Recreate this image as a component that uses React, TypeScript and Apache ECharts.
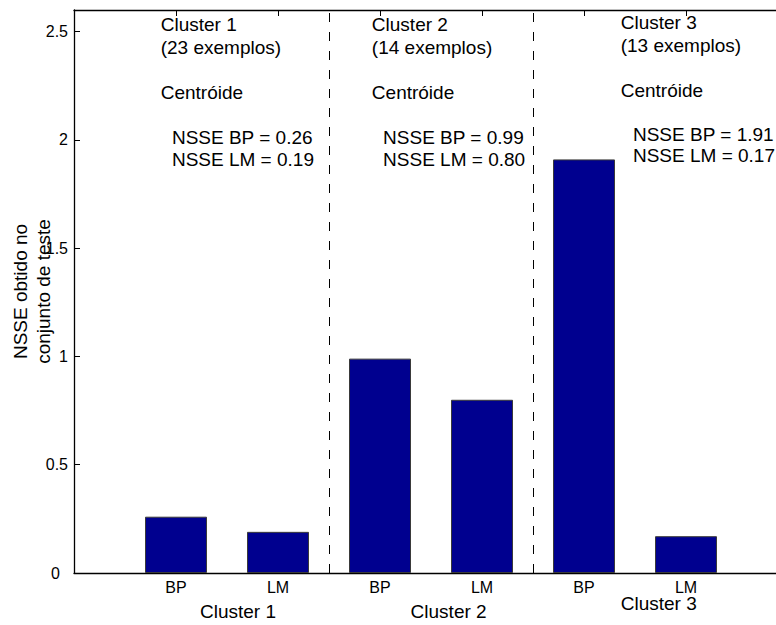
import React, { useEffect, useRef } from "react";
import * as echarts from "echarts";

// ---- data ----
const categories = ["BP", "LM", "BP", "LM", "BP", "LM"];
const nsse = [0.26, 0.19, 0.99, 0.8, 1.91, 0.17];
const clusterNames = ["Cluster 1", "Cluster 2", "Cluster 3"];
const exampleCounts = [23, 14, 13];
const nsseBP = ["0.26", "0.99", "1.91"];
const nsseLM = ["0.19", "0.80", "0.17"];
const dividers = [2.5, 4.5];
const yTicks = [0, 0.5, 1, 1.5, 2, 2.5];

// ---- layout (data coordinates for annotation anchors) ----
const headerX = [0.85, 2.92, 5.36];
const statX = [0.96, 3.03, 5.48];
const rowYs = [
  [2.531, 2.425, 2.219, 2.011, 1.909],
  [2.531, 2.425, 2.219, 2.011, 1.909],
  [2.542, 2.437, 2.229, 2.024, 1.930],
];
const bottomLabelX = [1.235, 3.3, 5.36];
const bottomLabelY = [-0.179, -0.179, -0.142];

const FONT = "'Liberation Sans', Arial, Helvetica, sans-serif";
const TEXT_SIZE = 19;
const TICK_SIZE = 16;

export default function App() {
  const ref = useRef<HTMLDivElement>(null);

  useEffect(() => {
    if (!ref.current) return;
    const chart = echarts.init(ref.current, null, { renderer: "svg" });

    const texts: { x: number; y: number; text: string }[] = [];
    clusterNames.forEach((name, k) => {
      const ry = rowYs[k];
      texts.push({ x: headerX[k], y: ry[0], text: name });
      texts.push({ x: headerX[k], y: ry[1], text: `(${exampleCounts[k]} exemplos)` });
      texts.push({ x: headerX[k], y: ry[2], text: "Centróide" });
      texts.push({ x: statX[k], y: ry[3], text: `NSSE BP = ${nsseBP[k]}` });
      texts.push({ x: statX[k], y: ry[4], text: `NSSE LM = ${nsseLM[k]}` });
      texts.push({ x: bottomLabelX[k], y: bottomLabelY[k], text: name });
    });

    const axisLineStyle = { color: "#000", width: 1.3 };

    chart.setOption({
      animation: false,
      backgroundColor: "#fff",
      grid: {
        left: 74,
        top: 10,
        width: 714,
        height: 563,
        containLabel: false,
        outerBoundsMode: "none",
      },
      xAxis: [
        {
          type: "value",
          position: "bottom",
          min: 0,
          max: 7,
          interval: 1,
          axisLine: { show: true, onZero: false, lineStyle: axisLineStyle },
          axisTick: { show: true, inside: true, length: 6, lineStyle: { color: "#000" } },
          axisLabel: {
            color: "#000",
            fontFamily: FONT,
            fontSize: TICK_SIZE,
            margin: 6,
            formatter: (v: number) =>
              v >= 1 && v <= categories.length ? categories[v - 1] : "",
          },
          splitLine: { show: false },
        },
        {
          type: "value",
          position: "top",
          min: 0,
          max: 7,
          interval: 1,
          axisLine: { show: true, onZero: false, lineStyle: axisLineStyle },
          axisTick: { show: true, inside: true, length: 6, lineStyle: { color: "#000" } },
          axisLabel: { show: false },
          splitLine: { show: false },
        },
      ],
      yAxis: {
        type: "value",
        min: 0,
        max: 2.6,
        interval: 0.5,
        name: "NSSE obtido no\nconjunto de teste",
        nameLocation: "middle",
        nameRotate: 90,
        nameGap: 19.5,
        nameMoveOverlap: false,
        nameTextStyle: {
          color: "#000",
          fontFamily: FONT,
          fontSize: TEXT_SIZE,
          lineHeight: 23,
        },
        axisLine: { show: true, lineStyle: axisLineStyle },
        axisTick: { show: true, inside: true, length: 6, lineStyle: { color: "#000" } },
        axisLabel: {
          color: "#000",
          fontFamily: FONT,
          fontSize: TICK_SIZE,
          margin: 6,
          showMaxLabel: false,
          formatter: (v: number) =>
            yTicks.indexOf(v) < 0 ? "" : v === 0 ? "{z|0}" : String(v),
          rich: {
            z: {
              color: "#000",
              fontFamily: FONT,
              fontSize: TICK_SIZE,
              padding: [0, 8, 0, 0],
            },
          },
        },
        splitLine: { show: false },
      },
      series: [
        {
          type: "bar",
          xAxisIndex: 0,
          data: nsse.map((v, i) => [i + 1, v]),
          barWidth: 62,
          itemStyle: { color: "#00008f", borderColor: "#3a3a3a", borderWidth: 1 },
          markLine: {
            silent: true,
            symbol: ["none", "none"],
            label: { show: false },
            lineStyle: { color: "#000", width: 1, type: [9, 10] },
            data: dividers.map((d) => ({ xAxis: d })),
          },
          z: 2,
        },
        {
          type: "custom",
          xAxisIndex: 0,
          clip: false,
          silent: true,
          data: texts.map((t) => [t.x, t.y]),
          renderItem: (params: any, api: any) => {
            const p = api.coord([api.value(0), api.value(1)]);
            const t = texts[params.dataIndex];
            return {
              type: "text",
              x: p[0],
              y: p[1],
              style: {
                text: t.text,
                fill: "#000",
                fontFamily: FONT,
                fontSize: TEXT_SIZE,
                align: "left",
                verticalAlign: "middle",
              },
            };
          },
          z: 5,
        },
      ],
    });

    return () => chart.dispose();
  }, []);

  return (
    <div
      ref={ref}
      style={{ position: "absolute", left: 0, top: 0, width: 776, height: 625 }}
    />
  );
}
